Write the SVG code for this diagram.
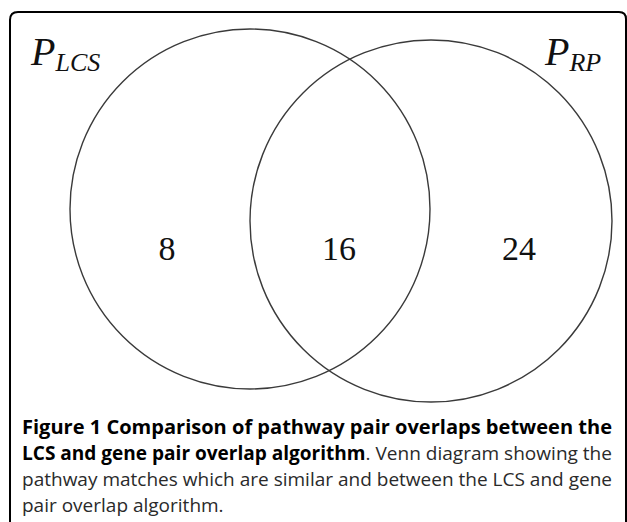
<svg xmlns="http://www.w3.org/2000/svg" width="627" height="522" viewBox="0 0 627 522">
<style>
.venn{fill:none;stroke:#3a3a3a;stroke-width:1.4}
.frame{fill:none;stroke:#000;stroke-width:2}
.num{font-family:"Liberation Serif",serif;font-size:34px;fill:#111;text-anchor:middle}
.set{font-family:"Liberation Serif",serif;font-style:italic;fill:#111}
.cap{font-family:"Open Sans",sans-serif;font-size:19px;fill:#2a2a2a}
.capb{font-weight:bold;fill:#000}
</style>
<rect width="627" height="522" fill="#fff"/>
<path class="frame" d="M10,530 L10,20 Q10,12 18,12 L619,12 Q626,12 626,19 L626,530"/>
<g id="connectors"></g>
<g id="set-lcs">
<circle class="venn" cx="250" cy="209" r="180"/>
<text class="set" x="31" y="65" font-size="40">P<tspan font-size="26" dy="6">LCS</tspan></text>
</g>
<g id="set-rp">
<circle class="venn" cx="431" cy="221" r="181"/>
<text class="set" x="545" y="65" font-size="40">P<tspan font-size="26" dy="6">RP</tspan></text>
</g>
<g id="region-lcs-only"><text class="num" x="167" y="260">8</text></g>
<g id="region-both"><text class="num" x="339" y="260">16</text></g>
<g id="region-rp-only"><text class="num" x="519" y="260">24</text></g>
<g id="caption">
<text class="cap capb" x="22" y="434" textLength="590" lengthAdjust="spacingAndGlyphs">Figure 1 Comparison of pathway pair overlaps between the</text>
<text class="cap" x="22" y="460" textLength="590" lengthAdjust="spacingAndGlyphs"><tspan class="capb">LCS and gene pair overlap algorithm</tspan>. Venn diagram showing the</text>
<text class="cap" x="22" y="486" textLength="590" lengthAdjust="spacingAndGlyphs">pathway matches which are similar and between the LCS and gene</text>
<text class="cap" x="22" y="512">pair overlap algorithm.</text>
</g>
</svg>
